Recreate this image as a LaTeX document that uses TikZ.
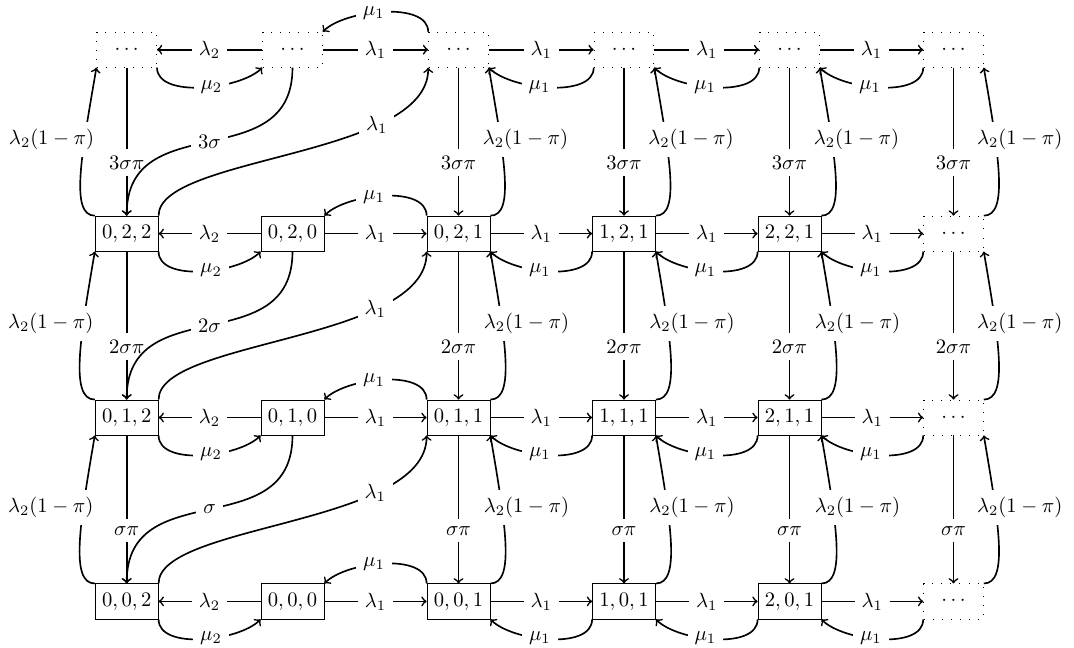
\documentclass[tikz,border=0pt]{standalone}
\usetikzlibrary{calc}
\begin{document}
\begin{tikzpicture}[x=0.4854pt, y=-0.4854pt,
  st/.style={draw, minimum height=17pt, minimum width=29pt},
  dt/.style={draw, loosely dotted, minimum height=17pt, minimum width=29pt},
  lbl/.style={fill=white},
  ar/.style={->, thick}]
\useasboundingbox (0,0) rectangle (1074,648);
% row 3 (top)
\node[dt] (n30) at (126.7,49.7) {$\cdots$};
\node[dt] (n31) at (292.5,49.7) {$\cdots$};
\node[dt] (n32) at (458.5,49.7) {$\cdots$};
\node[dt] (n33) at (624,49.7) {$\cdots$};
\node[dt] (n34) at (789.5,49.7) {$\cdots$};
\node[dt] (n35) at (953.5,49.7) {$\cdots$};
% row 2
\node[st] (n20) at (126.7,233.6) {$0,2,2$};
\node[st] (n21) at (292.5,233.6) {$0,2,0$};
\node[st] (n22) at (458.5,233.6) {$0,2,1$};
\node[st] (n23) at (624,233.6) {$1,2,1$};
\node[st] (n24) at (789.5,233.6) {$2,2,1$};
\node[dt] (n25) at (953.5,233.6) {$\cdots$};
% row 1
\node[st] (n10) at (126.7,417.5) {$0,1,2$};
\node[st] (n11) at (292.5,417.5) {$0,1,0$};
\node[st] (n12) at (458.5,417.5) {$0,1,1$};
\node[st] (n13) at (624,417.5) {$1,1,1$};
\node[st] (n14) at (789.5,417.5) {$2,1,1$};
\node[dt] (n15) at (953.5,417.5) {$\cdots$};
% row 0
\node[st] (n00) at (126.7,601.4) {$0,0,2$};
\node[st] (n01) at (292.5,601.4) {$0,0,0$};
\node[st] (n02) at (458.5,601.4) {$0,0,1$};
\node[st] (n03) at (624,601.4) {$1,0,1$};
\node[st] (n04) at (789.5,601.4) {$2,0,1$};
\node[dt] (n05) at (953.5,601.4) {$\cdots$};
% horizontal transitions
\foreach \rr in {0,1,2,3}{
  \draw[ar] (n\rr1) -- node[lbl]{$\lambda_2$} (n\rr0);
  \draw[ar] (n\rr0.south east) .. controls +(0,31) and +(-22,22) .. node[lbl,pos=0.57]{$\mu_2$} (n\rr1.south west);
  \draw[ar] (n\rr1) -- node[lbl]{$\lambda_1$} (n\rr2);
  \draw[ar] (n\rr2.north west) .. controls +(0,-31) and +(22,-22) .. node[lbl,pos=0.57]{$\mu_1$} (n\rr1.north east);
  \foreach \c/\d in {2/3,3/4,4/5}{
    \draw[ar] (n\rr\c) -- node[lbl]{$\lambda_1$} (n\rr\d);
    \draw[ar] (n\rr\d.south west) .. controls +(0,31) and +(22,22) .. node[lbl,pos=0.57]{$\mu_1$} (n\rr\c.south east);
  }
}
% vertical transitions
\foreach \lo/\hi/\k in {0/1/{}, 1/2/2, 2/3/3}{
  \foreach \c in {0,2,3,4,5}{
    \draw[ar] (n\hi\c) -- node[lbl,pos=0.643]{$\k\sigma\pi$} (n\lo\c);
  }
  \foreach \c in {2,3,4,5}{
    \draw[ar] (n\lo\c.north east) .. controls +(25,0) and +(15,88) .. (n\hi\c.south east)
      node[lbl] at ($(n\lo\c.north east)!0.5!(n\hi\c.south east)+(36,-2)$) {$\lambda_2(1-\pi)$};
  }
  \draw[ar] (n\lo0.north west) .. controls +(-25,0) and +(-15,88) .. (n\hi0.south west)
      node[lbl] at ($(n\lo0.north west)!0.5!(n\hi0.south west)+(-44,-2)$) {$\lambda_2(1-\pi)$};
  \draw[ar] (n\hi1.south) .. controls +(0,110) and +(0,-110) .. node[lbl]{$\k\sigma$} (n\lo0.north);
  \draw[ar] (n\lo0.north east) .. controls +(0,-60) and +(0,90) .. node[lbl,pos=0.72]{$\lambda_1$} (n\hi2.south west);
}
\end{tikzpicture}
\end{document}
